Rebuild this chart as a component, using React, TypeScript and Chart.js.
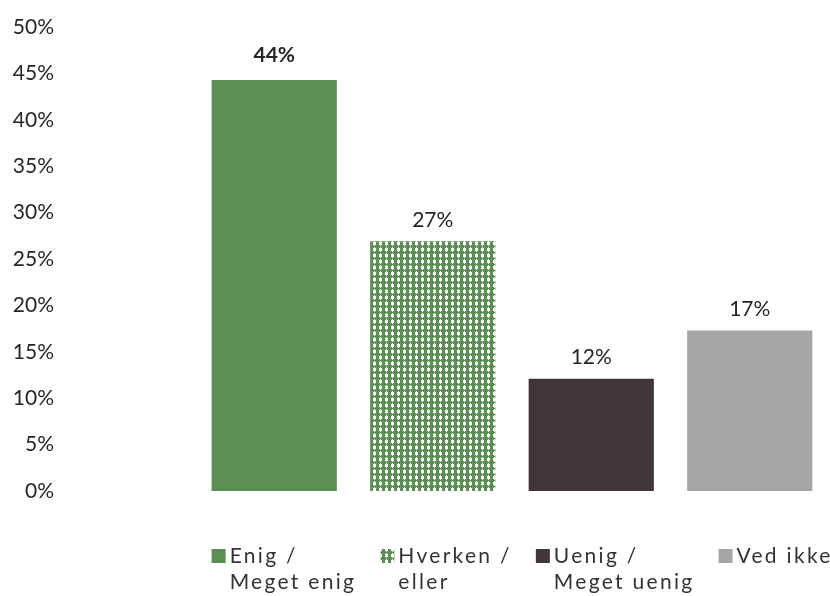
import React, { useEffect, useRef } from "react";
import { Chart, registerables } from "chart.js";

Chart.register(...registerables);

const categories: string[][] = [
  ["Enig /", "Meget enig"],
  ["Hverken /", "eller"],
  ["Uenig /", "Meget uenig"],
  ["Ved ikke"],
];
const values = [44.3, 26.9, 12.1, 17.3];
const valueLabels = ["44%", "27%", "12%", "17%"];
const boldLabels = [true, false, false, false];
const yMin = 0;
const yMax = 50;
const yStep = 5;

const FONT = "Lato";
const GREEN = "#5B8F56";
const DARK = "#403539";
const GREY = "#A6A6A6";
const TEXT = "#262626";

function makePattern(): CanvasPattern | string {
  const c = document.createElement("canvas");
  c.width = 6;
  c.height = 6;
  const g = c.getContext("2d");
  if (!g) return GREEN;
  g.fillStyle = GREEN;
  g.fillRect(0, 0, 6, 6);
  g.fillStyle = "#dfeadd";
  g.fillRect(2, 1, 1, 5);
  g.fillStyle = "#ffffff";
  g.fillRect(1, 2, 3, 3);
  const p = g.createPattern(c, "repeat");
  return p || GREEN;
}

export default function App() {
  const ref = useRef<HTMLCanvasElement | null>(null);

  useEffect(() => {
    if (!ref.current) return;
    const pattern = makePattern();
    const fills: (string | CanvasPattern)[] = [GREEN, pattern, DARK, GREY];

    const valueLabelPlugin = {
      id: "valueLabelPlugin",
      afterDatasetsDraw(chart: any) {
        const ctx = chart.ctx;
        const meta = chart.getDatasetMeta(0);
        ctx.save();
        ctx.textAlign = "center";
        ctx.textBaseline = "bottom";
        ctx.fillStyle = TEXT;
        meta.data.forEach((bar: any, i: number) => {
          ctx.font = `${boldLabels[i] ? "bold " : ""}21px ${FONT}`;
          ctx.fillText(valueLabels[i], bar.x, bar.y - (boldLabels[i] ? 14 : 11));
        });
        ctx.restore();
      },
    };

    const legendPlugin = {
      id: "multiLineLegend",
      afterDraw(chart: any) {
        const ctx = chart.ctx;
        const meta = chart.getDatasetMeta(0);
        const first = meta.data[0];
        let x = first.x - first.width / 2;
        const y0 = chart.chartArea.bottom + 65;
        ctx.save();
        ctx.font = `21px ${FONT}`;
        (ctx as any).letterSpacing = "2.3px";
        ctx.textAlign = "left";
        ctx.textBaseline = "middle";
        categories.forEach((lines, i) => {
          ctx.fillStyle = fills[i];
          ctx.fillRect(x, y0 - 7, 14, 14);
          const tx = x + 18;
          ctx.fillStyle = "#333333";
          lines.forEach((ln, j) => ctx.fillText(ln, tx, y0 + j * 26));
          const w = Math.max(...lines.map((l) => ctx.measureText(l).width));
          x = tx + w + 24;
        });
        ctx.restore();
      },
    };

    const chart = new Chart(ref.current, {
      type: "bar",
      data: {
        labels: categories,
        datasets: [
          {
            data: values,
            backgroundColor: fills as any,
            borderWidth: 0,
            barPercentage: 0.79,
            categoryPercentage: 1,
          },
        ],
      },
      options: {
        animation: false,
        responsive: true,
        maintainAspectRatio: false,
        layout: { padding: { top: 27, right: 1, bottom: 105, left: 0 } },
        plugins: {
          legend: { display: false },
          tooltip: { enabled: false },
        },
        scales: {
          x: {
            display: false,
            grid: { display: false },
          },
          y: {
            min: yMin,
            max: yMax,
            border: { display: false },
            grid: { display: false, drawTicks: false },
            ticks: {
              stepSize: yStep,
              padding: 141,
              color: TEXT,
              font: { family: FONT, size: 21 },
              callback: (v: any) => `${v}%`,
            },
            afterFit: (scale: any) => {
              scale.width = 195;
              scale.paddingTop = 12;
              scale.paddingBottom = 12;
            },
          },
        },
      },
      plugins: [valueLabelPlugin, legendPlugin],
    });
    return () => chart.destroy();
  }, []);

  return (
    <div style={{ position: "absolute", left: 0, top: 0, width: 830, height: 596 }}>
      <canvas ref={ref} />
    </div>
  );
}
